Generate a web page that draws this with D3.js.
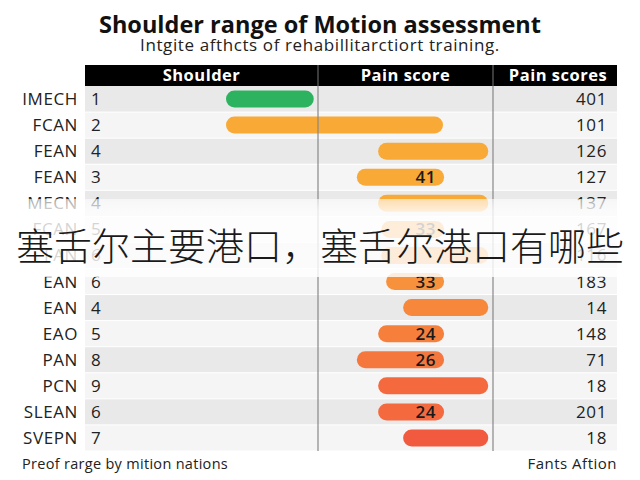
<!DOCTYPE html>
<html><head><meta charset="utf-8">
<script src="https://cdn.jsdelivr.net/npm/d3@7"></script>
<style>body{margin:0;background:#fff}svg{display:block}</style>
</head><body><svg id="c" width="640" height="480"></svg>
<script>
const categories = ["IMECH","FCAN","FEAN","FEAN","MECN","FCAN","FAN","EAN","EAN","EAO","PAN","PCN","SLEAN","SVEPN"];
const rowNumbers = [1,2,4,3,4,5,6,6,4,5,8,9,6,7];
const barStart = [26.5,26.5,55.1,51.1,55.1,55.7,55.7,56.6,59.8,55.1,51.1,55.1,55.1,59.8];
const barEnd   = [43.0,67.3,75.8,67.5,75.8,67.5,75.8,67.5,75.8,67.5,67.5,75.8,67.5,75.8];
const barLabels = ["","","","41","","33","","33","","24","26","","24",""];
const rightValues = [401,101,126,127,137,167,116,183,14,148,71,18,201,18];
const columnHeaders = ["Shoulder","Pain score","Pain scores"];

const barColors = ["#2db35f","#f9a936","#f9a936","#f9a936","#f9a936","#f8a13a","#f89a3c","#f8913c","#f7873a","#f77f3c","#f6773e","#f5693f","#f5693f","#f25a40"];
const font = "'Open Sans', sans-serif";
const svg = d3.select("#c");

// title
svg.append("text").attr("x",320).attr("y",33).attr("text-anchor","middle")
  .attr("font-family",font).attr("font-weight",700).attr("font-size",23.5).attr("fill","#111")
  .text("Shoulder range of Motion assessment");
svg.append("text").attr("x",320).attr("y",51).attr("text-anchor","middle")
  .attr("font-family",font).attr("font-size",17).attr("letter-spacing",0.6).attr("fill","#222")
  .text("Intgite afthcts of rehabillitarctiort training.");

const left = 85, right = 617, col1 = 318, col2 = 493;
const x = d3.scaleLinear().domain([0,100]).range([left,right]);
const y = d3.scaleBand().domain(d3.range(categories.length)).range([86,451]).paddingInner(0);

// header
svg.append("rect").attr("x",left).attr("y",65).attr("width",right-left).attr("height",21).attr("fill","#000");
const hdrX = [(left+col1)/2,(col1+col2)/2,(col2+right)/2+3];
columnHeaders.forEach((h,i)=>{
  svg.append("text").attr("x",hdrX[i]).attr("y",81).attr("text-anchor","middle")
    .attr("font-family",font).attr("font-weight",700).attr("font-size",16.5).attr("letter-spacing",0.5).attr("fill","#fff").text(h);
});
[col1,col2].forEach(cx=>svg.append("line").attr("x1",cx).attr("x2",cx).attr("y1",65).attr("y2",86).attr("stroke","#777").attr("stroke-width",1));

// rows
const rows = svg.append("g");
rows.selectAll("rect.bg").data(categories).join("rect").attr("class","bg")
  .attr("x",left).attr("y",(d,i)=>y(i)).attr("width",right-left).attr("height",y.bandwidth())
  .attr("fill",(d,i)=>i%2===0?"#e9e9e9":"#f5f5f5");
rows.selectAll("line.sep").data(categories).join("line").attr("class","sep")
  .attr("x1",left).attr("x2",right).attr("y1",(d,i)=>y(i)+y.bandwidth()).attr("y2",(d,i)=>y(i)+y.bandwidth())
  .attr("stroke","#fff").attr("stroke-width",1);
[col1,col2].forEach(cx=>svg.append("line").attr("x1",cx).attr("x2",cx).attr("y1",86).attr("y2",451).attr("stroke","#888").attr("stroke-width",1.2));

const bh = 17;
const txt = (sel)=>sel.attr("font-family",font).attr("font-size",17).attr("letter-spacing",0.6).attr("fill","#222");
rows.selectAll("rect.bar").data(categories).join("rect").attr("class","bar")
  .attr("x",(d,i)=>x(barStart[i])).attr("width",(d,i)=>x(barEnd[i])-x(barStart[i]))
  .attr("y",(d,i)=>y(i)+y.bandwidth()/2-bh/2).attr("height",bh).attr("rx",bh/2)
  .attr("fill",(d,i)=>barColors[i]);
rows.selectAll("text.bl").data(barLabels).join("text").attr("class","bl")
  .attr("x",(d,i)=>x(barEnd[i])-8).attr("y",(d,i)=>y(i)+y.bandwidth()/2+6).attr("text-anchor","end")
  .call(txt).attr("font-weight",600).attr("fill","#1a1a1a").text(d=>d);
rows.selectAll("text.cat").data(categories).join("text").attr("class","cat")
  .attr("x",78).attr("y",(d,i)=>y(i)+y.bandwidth()/2+6).attr("text-anchor","end")
  .call(txt).text(d=>d);
rows.selectAll("text.num").data(rowNumbers).join("text").attr("class","num")
  .attr("x",91).attr("y",(d,i)=>y(i)+y.bandwidth()/2+6)
  .call(txt).text(d=>d);
rows.selectAll("text.rv").data(rightValues).join("text").attr("class","rv")
  .attr("x",607).attr("y",(d,i)=>y(i)+y.bandwidth()/2+6).attr("text-anchor","end")
  .call(txt).text(d=>d);

// footer
svg.append("text").attr("x",22).attr("y",469).attr("font-family",font).attr("font-size",14.5).attr("letter-spacing",0.3).attr("fill","#222")
  .text("Preof rarge by mition nations");
svg.append("text").attr("x",617).attr("y",469).attr("text-anchor","end").attr("font-family",font).attr("font-size",15).attr("letter-spacing",0.5).attr("fill","#222")
  .text("Fants Aftion");

// overlay band + caption
const grad = svg.append("defs").append("linearGradient").attr("id","fade").attr("x1",0).attr("x2",0).attr("y1",0).attr("y2",1);
grad.append("stop").attr("offset","0%").attr("stop-color","#fff").attr("stop-opacity",0.6);
grad.append("stop").attr("offset","15%").attr("stop-color","#fff").attr("stop-opacity",0.8);
grad.append("stop").attr("offset","100%").attr("stop-color","#fff").attr("stop-opacity",0.82);
svg.append("rect").attr("x",0).attr("y",199).attr("width",640).attr("height",78).attr("fill","url(#fade)");
svg.append("text").attr("x",320).attr("y",260).attr("text-anchor","middle")
  .attr("font-family","'Noto Sans CJK SC', sans-serif").attr("font-weight",300).attr("font-size",38).attr("fill","#1a1a1a")
  .text("塞舌尔主要港口，塞舌尔港口有哪些");
</script></body></html>
